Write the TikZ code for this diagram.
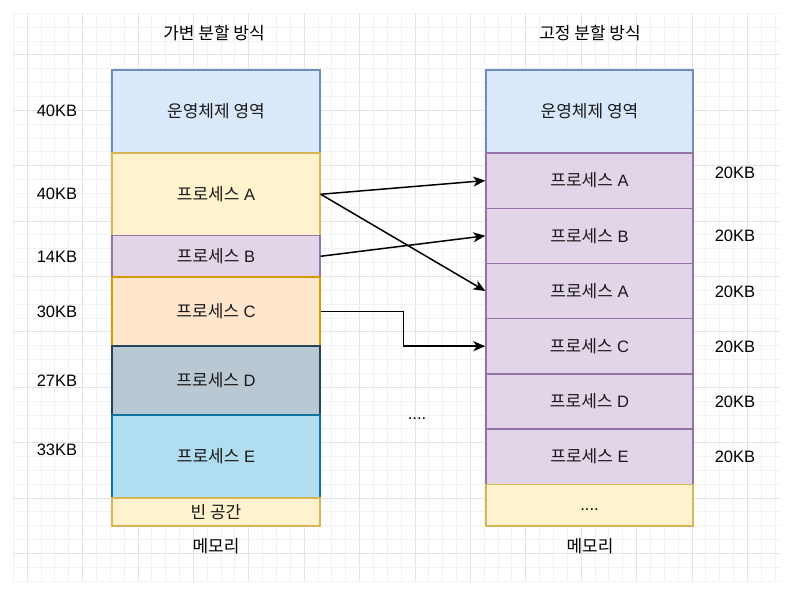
\documentclass[tikz,border=0pt]{standalone}
\usepackage{fontspec}
\setmainfont{Liberation Sans}
\newfontfamily\korfont{Noto Sans CJK KR}
\usetikzlibrary{arrows.meta}
\definecolor{gmin}{HTML}{F2F2F2}
\definecolor{gmaj}{HTML}{E3E3E3}
\definecolor{bluef}{HTML}{DAE8FC}\definecolor{blued}{HTML}{6C8EBF}
\definecolor{yelf}{HTML}{FFF2CC}\definecolor{yeld}{HTML}{D6B656}
\definecolor{purf}{HTML}{E1D5E7}\definecolor{purd}{HTML}{9673A6}
\definecolor{oraf}{HTML}{FFE6CC}\definecolor{orad}{HTML}{D79B00}
\definecolor{grayf}{HTML}{BAC8D3}\definecolor{grayd}{HTML}{23445D}
\definecolor{cyanf}{HTML}{B1DDF0}\definecolor{cyand}{HTML}{10739E}
\newcommand{\kor}[1]{{\fontsize{17}{19}\korfont #1}}
\tikzset{
  mem/.style={draw, line width=1.4pt, inner sep=0pt, font=\fontsize{16.5}{19}\selectfont, text=black!90},
  lmem/.style={mem, minimum width=208pt},
  rmem/.style={mem, minimum width=207pt},
  osbox/.style={fill=bluef, draw=blued},
  ybox/.style={fill=yelf, draw=yeld},
  pbox/.style={fill=purf, draw=purd},
  obox/.style={fill=oraf, draw=orad},
  gbox/.style={fill=grayf, draw=grayd},
  cbox/.style={fill=cyanf, draw=cyand},
  lbl/.style={inner sep=0pt, font=\fontsize{16.5}{19}\selectfont, text=black},
  conn/.style={line width=1.5pt, -{Stealth[length=12pt,width=10pt,inset=3.5pt]}}
}
\begin{document}
\begin{tikzpicture}[x=1pt,y=-1pt]
\useasboundingbox (0,0) rectangle (809,594);
% grid
\foreach \k in {0,...,55}{
  \pgfmathsetmacro{\xx}{13.3+13.85*\k}
  \pgfmathtruncatemacro{\mm}{mod(\k,4)}
  \ifnum\mm=1 \draw[gmaj,line width=0.9pt] (\xx,13.3) -- (\xx,582);
  \else \draw[gmin,line width=0.9pt] (\xx,13.3) -- (\xx,582); \fi
}
\foreach \k in {0,...,41}{
  \pgfmathsetmacro{\yy}{13.3+13.85*\k}
  \pgfmathtruncatemacro{\mm}{mod(\k,4)}
  \ifnum\mm=3 \draw[gmaj,line width=0.9pt] (13.3,\yy) -- (780,\yy);
  \else \draw[gmin,line width=0.9pt] (13.3,\yy) -- (780,\yy); \fi
}
% titles
\node[lbl] (t1) at (214,33) {\kor{가변 분할 방식}};
\node[lbl] (t2) at (590,33) {\kor{고정 분할 방식}};
% left column
\node[lmem,osbox,minimum height=83pt] (lOS) at (216,111.5) {\kor{운영체제 영역}};
\node[lmem,ybox,minimum height=82.5pt] (lA) at (216,194.25) {\kor{프로세스} A};
\node[lmem,pbox,minimum height=41.5pt] (lB) at (216,256.25) {\kor{프로세스} B};
\node[lmem,obox,minimum height=69pt] (lC) at (216,311.5) {\kor{프로세스} C};
\node[lmem,gbox,minimum height=69pt] (lD) at (216,380.5) {\kor{프로세스} D};
\node[lmem,cbox,minimum height=83pt] (lE) at (216,456.5) {\kor{프로세스} E};
\node[lmem,ybox,minimum height=28pt] (lF) at (216,512) {\kor{빈 공간}};
% right column
\node[rmem,osbox,minimum height=83pt] (rOS) at (589.5,111.5) {\kor{운영체제 영역}};
\node[rmem,pbox,minimum height=55.2pt] (rA) at (589.5,180.6) {\kor{프로세스} A};
\node[rmem,pbox,minimum height=55.2pt] (rB) at (589.5,235.8) {\kor{프로세스} B};
\node[rmem,pbox,minimum height=55.2pt] (rA2) at (589.5,291) {\kor{프로세스} A};
\node[rmem,pbox,minimum height=55.2pt] (rC) at (589.5,346.2) {\kor{프로세스} C};
\node[rmem,pbox,minimum height=55.2pt] (rD) at (589.5,401.4) {\kor{프로세스} D};
\node[rmem,pbox,minimum height=55.2pt] (rE) at (589.5,456.6) {\kor{프로세스} E};
\node[rmem,ybox,minimum height=41.8pt] (rF) at (589.5,505.1) {};
\node[lbl] (rFt) at (589.5,510) {....};
% bottom labels
\node[lbl] (m1) at (216,546) {\kor{메모리}};
\node[lbl] (m2) at (590,546) {\kor{메모리}};
\node[lbl] (dots) at (417,419) {....};
% left size labels
\node[lbl] (s1) at (57,111) {40KB};
\node[lbl] (s2) at (57,194) {40KB};
\node[lbl] (s3) at (57,256.5) {14KB};
\node[lbl] (s4) at (57,311.5) {30KB};
\node[lbl] (s5) at (57,381) {27KB};
\node[lbl] (s6) at (57,450) {33KB};
% right size labels
\node[lbl] (r1) at (735,173) {20KB};
\node[lbl] (r2) at (735,236) {20KB};
\node[lbl] (r3) at (735,291.5) {20KB};
\node[lbl] (r4) at (735,346.5) {20KB};
\node[lbl] (r5) at (735,401.5) {20KB};
\node[lbl] (r6) at (735,456.5) {20KB};
% connectors
\draw[conn] (lA.east) -- (rA.west);
\draw[conn] (lA.east) -- (rA2.west);
\draw[conn] (lB.east) -- (rB.west);
\draw[conn] (lC.east) -- ++(83,0) |- (rC.west);
\end{tikzpicture}
\end{document}
